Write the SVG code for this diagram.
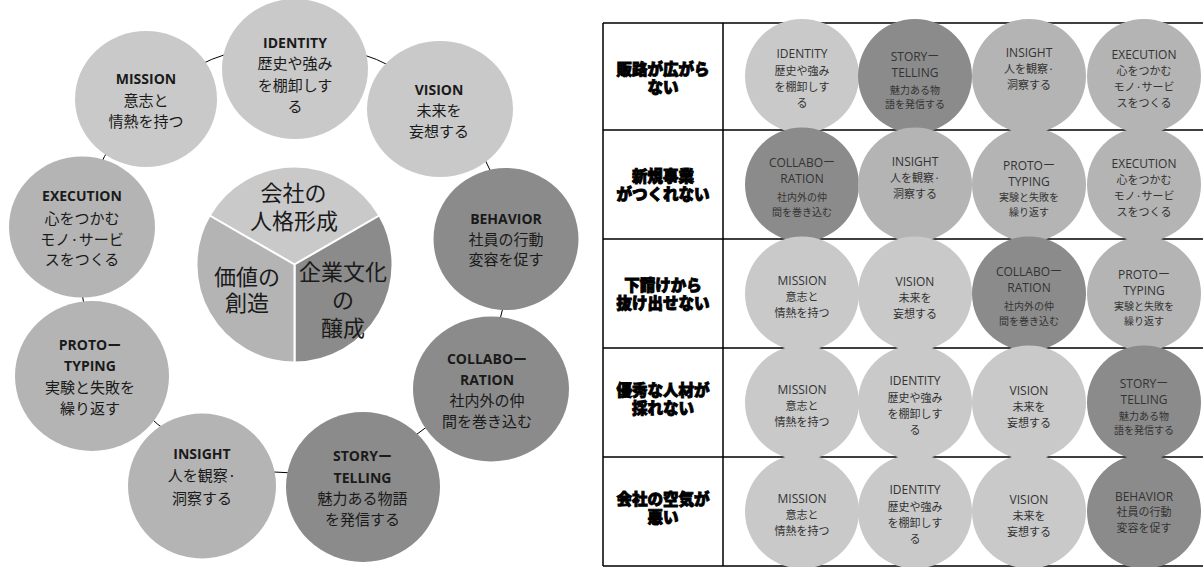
<svg xmlns="http://www.w3.org/2000/svg" width="1203" height="567" viewBox="0 0 1203 567">
<style>
.L{fill:#c9c9c9}.M{fill:#b4b4b4}.D{fill:#8b8b8b}
text{font-family:"Open Sans","Noto Sans CJK JP",sans-serif;text-anchor:middle}
.le{font-size:14px;font-weight:700;fill:#1a1a1a}
.lj{font-size:15px;fill:#1a1a1a;font-family:"Noto Sans CJK JP",sans-serif}
.pie{font-size:22px;fill:#1a1a1a;font-family:"Noto Sans CJK JP",sans-serif}
.te{font-size:12px;fill:#333}
.tj{font-size:11px;fill:#333;font-family:"Noto Sans CJK JP",sans-serif}
.ts{font-size:10px;fill:#333;font-family:"Noto Sans CJK JP",sans-serif}
.hd{font-size:15.5px;font-weight:900;fill:#000;stroke:#000;stroke-width:0.9px;font-family:"Noto Sans CJK JP",sans-serif}
.grid{stroke:#000;stroke-width:1.5;fill:none}
</style>
<rect width="1203" height="567" fill="#fff"/>
<g id="connectors">
<circle cx="294" cy="258" r="215" fill="none" stroke="#000" stroke-width="1"/>
</g>
<g id="mission">
<ellipse class="L" cx="146" cy="99" rx="71" ry="68"/>
<text class="le" x="146" y="84">MISSION</text>
<text class="lj" x="146" y="105.5">意志と</text>
<text class="lj" x="146" y="127">情熱を持つ</text>
</g>
<g id="identity">
<ellipse class="L" cx="295" cy="69" rx="73" ry="70"/>
<text class="le" x="295" y="48">IDENTITY</text>
<text class="lj" x="295" y="69">歴史や強み</text>
<text class="lj" x="295" y="90.5">を棚卸しす</text>
<text class="lj" x="295" y="111.5">る</text>
</g>
<g id="vision">
<ellipse class="L" cx="440" cy="109" rx="73" ry="68"/>
<text class="le" x="439" y="94.5">VISION</text>
<text class="lj" x="439" y="116">未来を</text>
<text class="lj" x="439" y="137">妄想する</text>
</g>
<g id="behavior">
<ellipse class="D" cx="506" cy="239" rx="72.5" ry="71"/>
<text class="le" x="506" y="223.5">BEHAVIOR</text>
<text class="lj" x="506" y="244.5">社員の行動</text>
<text class="lj" x="506" y="264.5">変容を促す</text>
</g>
<g id="collaboration">
<ellipse class="D" cx="491" cy="389" rx="78" ry="72.5"/>
<text class="le" x="487" y="363.5">COLLABOー</text>
<text class="le" x="487" y="384.5">RATION</text>
<text class="lj" x="487" y="405.5">社内外の仲</text>
<text class="lj" x="487" y="427">間を巻き込む</text>
</g>
<g id="storytelling">
<ellipse class="D" cx="363" cy="487" rx="77" ry="75"/>
<text class="le" x="362.5" y="461">STORYー</text>
<text class="le" x="362.5" y="482.5">TELLING</text>
<text class="lj" x="362.5" y="503.5">魅力ある物語</text>
<text class="lj" x="362.5" y="524.5">を発信する</text>
</g>
<g id="insight">
<ellipse class="M" cx="202" cy="486" rx="74" ry="72.5"/>
<text class="le" x="202" y="459">INSIGHT</text>
<text class="lj" x="202" y="481">人を観察·</text>
<text class="lj" x="202" y="503.5">洞察する</text>
</g>
<g id="prototyping">
<ellipse class="M" cx="92" cy="376" rx="77" ry="75"/>
<text class="le" x="90" y="350">PROTOー</text>
<text class="le" x="90" y="371">TYPING</text>
<text class="lj" x="90" y="392.5">実験と失敗を</text>
<text class="lj" x="90" y="413.5">繰り返す</text>
</g>
<g id="execution">
<ellipse class="M" cx="82" cy="227" rx="73" ry="70.5"/>
<text class="le" x="82" y="201">EXECUTION</text>
<text class="lj" x="82" y="223.5">心をつかむ</text>
<text class="lj" x="82" y="244.5">モノ·サービ</text>
<text class="lj" x="82" y="264.5">スをつくる</text>
</g>
<g id="center-pie">
<path class="L" d="M294.5 264.5 L209.6 215.5 A98 98 0 0 1 379.4 215.5 Z" stroke="#fff" stroke-width="2"/>
<path class="D" d="M294.5 264.5 L379.4 215.5 A98 98 0 0 1 294.5 362.5 Z" stroke="#fff" stroke-width="2"/>
<path class="M" d="M294.5 264.5 L294.5 362.5 A98 98 0 0 1 209.6 215.5 Z" stroke="#fff" stroke-width="2"/>
<text class="pie" x="293.5" y="201">会社の</text>
<text class="pie" x="294" y="229">人格形成</text>
<text class="pie" x="247" y="285">価値の</text>
<text class="pie" x="247" y="311">創造</text>
<text class="pie" x="343" y="280">企業文化</text>
<text class="pie" x="343" y="308">の</text>
<text class="pie" x="343" y="336">醸成</text>
</g>
<g id="table-grid">
<path class="grid" d="M603 23 H1203 M603 130 H1203 M603 239 H1203 M603 348 H1203 M603 457 H1203 M603 566 H1203 M603 23 V566 M723 23 V566"/>
</g>
<g id="row-headers">
<text class="hd" x="663" y="75">販路が広がら</text>
<text class="hd" x="663" y="93">ない</text>
<text class="hd" x="663" y="182">新規事業</text>
<text class="hd" x="663" y="200">がつくれない</text>
<text class="hd" x="663" y="290.5">下請けから</text>
<text class="hd" x="663" y="308.5">抜け出せない</text>
<text class="hd" x="663" y="396">優秀な人材が</text>
<text class="hd" x="663" y="414">採れない</text>
<text class="hd" x="663" y="504.5">会社の空気が</text>
<text class="hd" x="663" y="522.5">悪い</text>
</g>
<g id="r1c1" transform="translate(802,76)"><circle class="L" r="57"/><text class="te" y="-18">IDENTITY</text><text class="tj" y="-1">歴史や強み</text><text class="tj" y="15">を棚卸しす</text><text class="tj" y="31">る</text></g>
<g id="r1c2" transform="translate(915,76)"><circle class="D" r="57"/><text class="te" y="-15">STORYー</text><text class="te" y="1">TELLING</text><text class="ts" y="17.5">魅力ある物</text><text class="ts" y="31.5">語を発信する</text></g>
<g id="r1c3" transform="translate(1029,76)"><circle class="M" r="57"/><text class="te" y="-19">INSIGHT</text><text class="tj" y="-3">人を観察·</text><text class="tj" y="13">洞察する</text></g>
<g id="r1c4" transform="translate(1144,76)"><circle class="M" r="57"/><text class="te" y="-17">EXECUTION</text><text class="tj" y="-1">心をつかむ</text><text class="tj" y="15">モノ·サービ</text><text class="tj" y="31">スをつくる</text></g>
<g id="r2c1" transform="translate(802,184.5)"><circle class="D" r="57"/><text class="te" y="-17.5">COLLABOー</text><text class="te" y="-2">RATION</text><text class="ts" y="16">社内外の仲</text><text class="ts" y="31">間を巻き込む</text></g>
<g id="r2c2" transform="translate(915,184.5)"><circle class="M" r="57"/><text class="te" y="-19">INSIGHT</text><text class="tj" y="-3">人を観察·</text><text class="tj" y="13">洞察する</text></g>
<g id="r2c3" transform="translate(1029,184.5)"><circle class="M" r="57"/><text class="te" y="-14.5">PROTOー</text><text class="te" y="1">TYPING</text><text class="ts" y="16">実験と失敗を</text><text class="ts" y="31">繰り返す</text></g>
<g id="r2c4" transform="translate(1144,184.5)"><circle class="M" r="57"/><text class="te" y="-17">EXECUTION</text><text class="tj" y="-1">心をつかむ</text><text class="tj" y="15">モノ·サービ</text><text class="tj" y="31">スをつくる</text></g>
<g id="r3c1" transform="translate(802,293.5)"><circle class="L" r="57"/><text class="te" y="-8.5">MISSION</text><text class="tj" y="7.5">意志と</text><text class="tj" y="23">情熱を持つ</text></g>
<g id="r3c2" transform="translate(915,293.5)"><circle class="L" r="57"/><text class="te" y="-8">VISION</text><text class="tj" y="8">未来を</text><text class="tj" y="24">妄想する</text></g>
<g id="r3c3" transform="translate(1029,293.5)"><circle class="D" r="57"/><text class="te" y="-17.5">COLLABOー</text><text class="te" y="-2">RATION</text><text class="ts" y="16">社内外の仲</text><text class="ts" y="31">間を巻き込む</text></g>
<g id="r3c4" transform="translate(1144,293.5)"><circle class="M" r="57"/><text class="te" y="-14.5">PROTOー</text><text class="te" y="1">TYPING</text><text class="ts" y="16">実験と失敗を</text><text class="ts" y="31">繰り返す</text></g>
<g id="r4c1" transform="translate(802,402.5)"><circle class="L" r="57"/><text class="te" y="-8.5">MISSION</text><text class="tj" y="7.5">意志と</text><text class="tj" y="23">情熱を持つ</text></g>
<g id="r4c2" transform="translate(915,402.5)"><circle class="L" r="57"/><text class="te" y="-18">IDENTITY</text><text class="tj" y="-1">歴史や強み</text><text class="tj" y="15">を棚卸しす</text><text class="tj" y="31">る</text></g>
<g id="r4c3" transform="translate(1029,402.5)"><circle class="L" r="57"/><text class="te" y="-8">VISION</text><text class="tj" y="8">未来を</text><text class="tj" y="24">妄想する</text></g>
<g id="r4c4" transform="translate(1144,402.5)"><circle class="D" r="57"/><text class="te" y="-15">STORYー</text><text class="te" y="1">TELLING</text><text class="ts" y="17.5">魅力ある物</text><text class="ts" y="31.5">語を発信する</text></g>
<g id="r5c1" transform="translate(802,511.5)"><circle class="L" r="57"/><text class="te" y="-8.5">MISSION</text><text class="tj" y="7.5">意志と</text><text class="tj" y="23">情熱を持つ</text></g>
<g id="r5c2" transform="translate(915,511.5)"><circle class="L" r="57"/><text class="te" y="-18">IDENTITY</text><text class="tj" y="-1">歴史や強み</text><text class="tj" y="15">を棚卸しす</text><text class="tj" y="31">る</text></g>
<g id="r5c3" transform="translate(1029,511.5)"><circle class="L" r="57"/><text class="te" y="-8">VISION</text><text class="tj" y="8">未来を</text><text class="tj" y="24">妄想する</text></g>
<g id="r5c4" transform="translate(1144,511.5)"><circle class="D" r="57"/><text class="te" y="-11">BEHAVIOR</text><text class="tj" y="4">社員の行動</text><text class="tj" y="20">変容を促す</text></g>
</svg>
